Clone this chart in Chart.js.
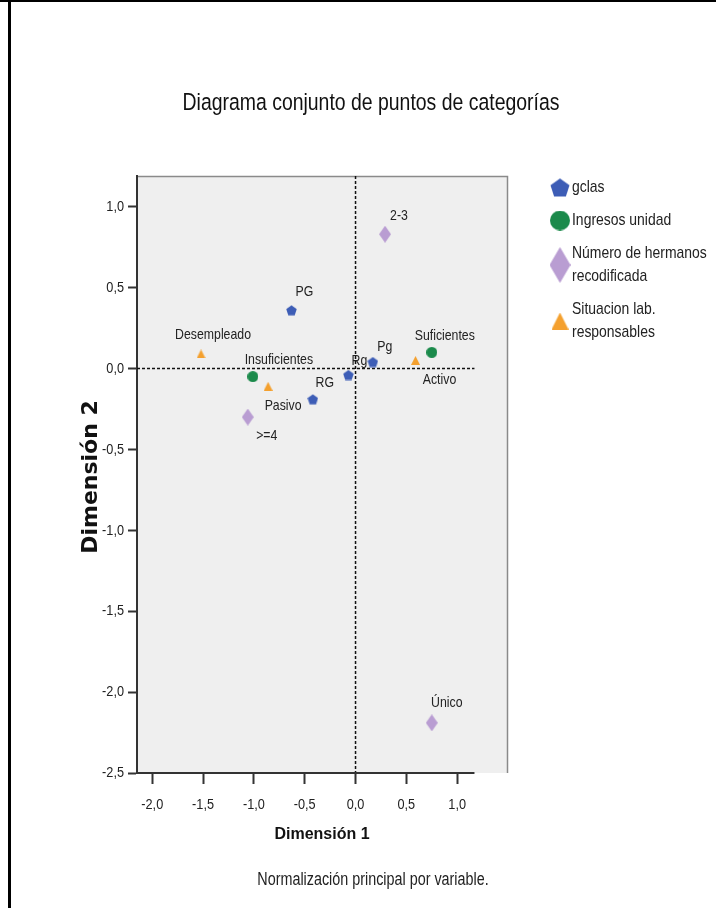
<!DOCTYPE html>
<html>
<head>
<meta charset="utf-8">
<script src="https://cdn.jsdelivr.net/npm/chart.js@4.4.1/dist/chart.umd.min.js"></script>
<style>
body { margin: 0; background: #fff; }
canvas { display: block; }
</style>
</head>
<body>
<canvas id="chart" width="716" height="908"></canvas>
<script>
// series
var seriesNames = ['gclas', 'Ingresos unidad', 'Número de hermanos recodificada', 'Situacion lab. responsables'];
var seriesColors = ['#3d5db6', '#1b8a4b', '#b99dd2', '#f4a02e'];

// category points
var gclasLabels = ['PG', 'RG', 'Rg', 'Pg'];
var gclasX = [-0.63, -0.42, -0.07, 0.17];
var gclasY = [0.36, -0.19, -0.04, 0.04];

var ingresosLabels = ['Insuficientes', 'Suficientes'];
var ingresosX = [-1.01, 0.75];
var ingresosY = [-0.05, 0.10];

var hermanosLabels = ['2-3', '>=4', 'Único'];
var hermanosX = [0.29, -1.06, 0.75];
var hermanosY = [0.83, -0.30, -2.19];

var situacionLabels = ['Desempleado', 'Pasivo', 'Activo'];
var situacionX = [-1.52, -0.86, 0.59];
var situacionY = [0.09, -0.11, 0.05];

// axes
var xTicks = [-2.0, -1.5, -1.0, -0.5, 0.0, 0.5, 1.0];
var yTicks = [-2.5, -2.0, -1.5, -1.0, -0.5, 0.0, 0.5, 1.0];
var xMin = -2.15, xMax = 1.50, xAxisEnd = 1.17;
var yMin = -2.5, yMax = 1.19;

// where each label sits relative to its point (px)
var labelOffsets = {
  'PG': [13, -18], 'RG': [12, -16], 'Rg': [11, -14], 'Pg': [12, -15],
  'Insuficientes': [26, -17], 'Suficientes': [13, -16],
  '2-3': [14, -18], '>=4': [19, 19], 'Único': [15, -20],
  'Desempleado': [12, -19], 'Pasivo': [15, 20], 'Activo': [24, 19]
};

// Arial Narrow look: Liberation Sans squeezed sideways
var SQUEEZE = 0.82;
function narrowText(ctx, text, x, y, size, align) {
  ctx.save();
  ctx.font = size + 'px "Liberation Sans", Arial, sans-serif';
  ctx.textAlign = align || 'center';
  ctx.textBaseline = 'middle';
  ctx.translate(x, y);
  ctx.scale(SQUEEZE, 1);
  ctx.fillText(text, 0, 0);
  ctx.restore();
}
function narrowWidth(ctx, text, size) {
  ctx.save();
  ctx.font = size + 'px "Liberation Sans", Arial, sans-serif';
  var w = ctx.measureText(text).width * SQUEEZE;
  ctx.restore();
  return w;
}

function makeMarker(shape, color, w, h) {
  var c = document.createElement('canvas');
  c.width = w; c.height = h;
  var g = c.getContext('2d');
  g.fillStyle = color;
  g.beginPath();
  if (shape == 'pentagon') {
    var r = w / 2;
    var cy = r + (r - r * Math.cos(Math.PI / 5)) / 2;
    for (var i = 0; i < 5; i++) {
      var a = -Math.PI / 2 + i * 2 * Math.PI / 5;
      g.lineTo(w / 2 + r * Math.cos(a), cy + r * Math.sin(a));
    }
  } else if (shape == 'circle') {
    g.arc(w / 2, h / 2, w / 2, 0, Math.PI * 2);
  } else if (shape == 'diamond') {
    g.moveTo(w / 2, 0); g.lineTo(w, h / 2); g.lineTo(w / 2, h); g.lineTo(0, h / 2);
  } else if (shape == 'triangle') {
    g.moveTo(w / 2, 0); g.lineTo(w, h); g.lineTo(0, h);
  }
  g.closePath();
  g.fill();
  return c;
}

var shapes = ['pentagon', 'circle', 'diamond', 'triangle'];
var smallSize = [[11, 11], [11, 11], [12, 17], [9, 9]];
var bigSize = [[20, 20], [20, 20], [21, 36], [17, 17]];

function pts(xs, ys, labels) {
  return xs.map(function (v, i) { return { x: v, y: ys[i], label: labels[i] }; });
}

var allData = [
  pts(gclasX, gclasY, gclasLabels),
  pts(ingresosX, ingresosY, ingresosLabels),
  pts(hermanosX, hermanosY, hermanosLabels),
  pts(situacionX, situacionY, situacionLabels)
];

var datasets = seriesNames.map(function (name, i) {
  return {
    label: name,
    data: allData[i],
    pointStyle: makeMarker(shapes[i], seriesColors[i], smallSize[i][0], smallSize[i][1]),
    legendMarker: makeMarker(shapes[i], seriesColors[i], bigSize[i][0], bigSize[i][1]),
    backgroundColor: seriesColors[i],
    borderColor: seriesColors[i]
  };
});

function fmt(v) { return v.toFixed(1).replace('.', ','); }

var decor = {
  id: 'decor',
  beforeDraw: function (chart) {
    var ctx = chart.ctx, a = chart.chartArea;
    ctx.save();
    ctx.fillStyle = '#fff';
    ctx.fillRect(0, 0, chart.width, chart.height);
    // page frame
    ctx.fillStyle = '#000';
    ctx.fillRect(0, 0, chart.width, 2);
    ctx.fillRect(8, 0, 3, chart.height);
    // plot box
    ctx.fillStyle = '#efefef';
    ctx.fillRect(a.left, a.top, a.right - a.left, a.bottom - a.top);
    ctx.strokeStyle = '#8a8a8a';
    ctx.lineWidth = 1.5;
    ctx.beginPath();
    ctx.moveTo(a.left, a.top + 0.5); ctx.lineTo(a.right - 0.5, a.top + 0.5); ctx.lineTo(a.right - 0.5, a.bottom);
    ctx.stroke();
    ctx.restore();
  },
  beforeDatasetsDraw: function (chart) {
    var ctx = chart.ctx, a = chart.chartArea, sx = chart.scales.x, sy = chart.scales.y;
    ctx.save();
    ctx.strokeStyle = '#111';
    ctx.lineWidth = 1.5;
    ctx.setLineDash([3, 2]);
    ctx.beginPath();
    var x0 = sx.getPixelForValue(0), y0 = sy.getPixelForValue(0);
    ctx.moveTo(x0, a.top); ctx.lineTo(x0, a.bottom);
    ctx.moveTo(a.left, y0); ctx.lineTo(sx.getPixelForValue(xAxisEnd), y0);
    ctx.stroke();
    ctx.setLineDash([]);
    // x axis line
    ctx.strokeStyle = '#333';
    ctx.lineWidth = 2;
    ctx.beginPath();
    ctx.moveTo(a.left - 1, a.bottom); ctx.lineTo(sx.getPixelForValue(xAxisEnd), a.bottom);
    ctx.stroke();
    ctx.restore();

    // tick labels from the scales' own ticks
    ctx.save();
    ctx.fillStyle = '#222';
    sx.ticks.forEach(function (t) {
      narrowText(ctx, fmt(t.value), sx.getPixelForValue(t.value), a.bottom + 32, 15.5, 'center');
    });
    sy.ticks.forEach(function (t) {
      narrowText(ctx, fmt(t.value), a.left - 13, sy.getPixelForValue(t.value), 15.5, 'right');
    });
    ctx.restore();
  },
  afterDatasetsDraw: function (chart) {
    var ctx = chart.ctx, sx = chart.scales.x, sy = chart.scales.y;
    ctx.save();
    ctx.fillStyle = '#222';
    chart.data.datasets.forEach(function (ds) {
      ds.data.forEach(function (p) {
        var o = labelOffsets[p.label] || [10, -14];
        narrowText(ctx, p.label, sx.getPixelForValue(p.x) + o[0], sy.getPixelForValue(p.y) + o[1], 15, 'center');
      });
    });
    ctx.restore();
  },
  afterDraw: function (chart) {
    var ctx = chart.ctx;
    ctx.save();
    ctx.fillStyle = '#111';
    narrowText(ctx, 'Diagrama conjunto de puntos de categorías', 371, 103, 23.7, 'center');
    ctx.textAlign = 'center';
    ctx.textBaseline = 'middle';
    ctx.font = 'bold 16px "Liberation Sans", Arial, sans-serif';
    ctx.fillText('Dimensión 1', 322, 835);
    ctx.fillStyle = '#222';
    narrowText(ctx, 'Normalización principal por variable.', 373, 880, 17.5, 'center');
    ctx.save();
    ctx.translate(91, 477);
    ctx.rotate(-Math.PI / 2);
    ctx.fillStyle = '#111';
    ctx.font = 'bold 22px "DejaVu Sans", Verdana, sans-serif';
    ctx.fillText('Dimensión 2', 0, 0);
    ctx.restore();

    // legend
    var lx = 572, mx = 560, lineH = 23, gap = 10, y = 176, fs = 17;
    ctx.fillStyle = '#222';
    chart.data.datasets.forEach(function (ds) {
      var words = ds.label.split(' '), lines = [], cur = '';
      words.forEach(function (w) {
        var t = cur ? cur + ' ' + w : w;
        if (cur && narrowWidth(ctx, t, fs) > chart.width - lx + 2) { lines.push(cur); cur = w; }
        else cur = t;
      });
      lines.push(cur);
      var m = ds.legendMarker;
      var h = Math.max(m.height, lines.length * lineH);
      ctx.drawImage(m, mx - m.width / 2, y + h / 2 - m.height / 2);
      lines.forEach(function (l, k) {
        narrowText(ctx, l, lx, y + (h - lines.length * lineH) / 2 + lineH * k + lineH / 2, fs, 'left');
      });
      y += h + gap;
    });
    ctx.restore();
  }
};

new Chart(document.getElementById('chart'), {
  type: 'scatter',
  data: { datasets: datasets },
  options: {
    responsive: false,
    animation: false,
    events: [],
    devicePixelRatio: 1,
    layout: { padding: { top: 176, right: 208, left: 0, bottom: 0 }, autoPadding: false },
    plugins: { legend: { display: false }, tooltip: { enabled: false }, title: { display: false } },
    elements: { point: { radius: 6 } },
    scales: {
      x: {
        type: 'linear', min: xMin, max: xMax,
        afterFit: function (s) { s.height = 135; },
        afterBuildTicks: function (s) { s.ticks = xTicks.map(function (v) { return { value: v }; }); },
        border: { display: false },
        grid: { drawOnChartArea: false, drawTicks: true, tickLength: 11, tickWidth: 2, tickColor: '#333' },
        ticks: { display: false }
      },
      y: {
        type: 'linear', min: yMin, max: yMax,
        afterFit: function (s) { s.width = 137; },
        afterBuildTicks: function (s) { s.ticks = yTicks.map(function (v) { return { value: v }; }); },
        border: { display: true, color: '#333', width: 2 },
        grid: { drawOnChartArea: false, drawTicks: true, tickLength: 9, tickWidth: 2, tickColor: '#333' },
        ticks: { display: false }
      }
    }
  },
  plugins: [decor]
});
</script>
</body>
</html>
